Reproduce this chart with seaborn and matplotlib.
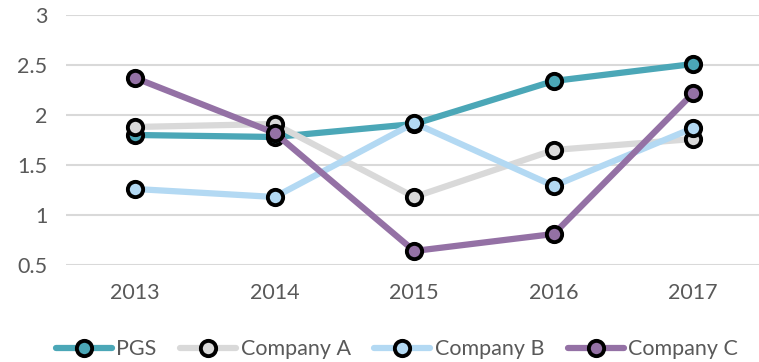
import matplotlib
matplotlib.use("Agg")
import matplotlib.pyplot as plt
import seaborn as sns
import pandas as pd

years = [2013, 2014, 2015, 2016, 2017]
series_names = ["PGS", "Company A", "Company B", "Company C"]
pgs = [1.80, 1.78, 1.91, 2.34, 2.51]
company_a = [1.88, 1.91, 1.18, 1.65, 1.76]
company_b = [1.26, 1.18, 1.92, 1.29, 1.87]
company_c = [2.37, 1.82, 0.64, 0.81, 2.22]
colors = ["#4BA7B7", "#D9D9D9", "#B3D9F3", "#9471A5"]
y_ticks = [0.5, 1, 1.5, 2, 2.5, 3]

df = pd.DataFrame({
    "year": years * 4,
    "value": pgs + company_a + company_b + company_c,
    "series": sum([[n] * len(years) for n in series_names], []),
})

sns.set_style("white")
plt.rcParams["font.family"] = ["Lato", "DejaVu Sans"]

fig = plt.figure(figsize=(7.59, 3.62), dpi=100)
ax = fig.add_axes([0.0863, 0.268, 0.919, 0.6906])

sns.lineplot(
    data=df, x="year", y="value", hue="series", hue_order=series_names,
    palette=colors, linewidth=4.5, marker="o", markersize=11,
    markeredgecolor="black", markeredgewidth=2.8, ax=ax, legend=True,
    sort=False,
)

ax.set_xlim(2012.5, 2017.5)
ax.set_ylim(0.5, 3)
ax.set_xticks(years)
ax.set_xticklabels([str(y) for y in years])
ax.set_yticks(y_ticks)
ax.set_yticklabels(["0.5", "1", "1.5", "2", "2.5", "3"])
ax.yaxis.grid(True, color="#D9D9D9", linewidth=1.5)
ax.set_axisbelow(True)
for s in ax.spines.values():
    s.set_visible(False)
ax.tick_params(axis="both", length=0, labelsize=15.5, colors="#595959")
ax.tick_params(axis="x", pad=13)
ax.tick_params(axis="y", pad=13)
ax.set_xlabel("")
ax.set_ylabel("")

handles, labels = ax.get_legend_handles_labels()
ax.get_legend().remove()
fig.legend(
    handles, labels, loc="center", bbox_to_anchor=(0.523, 0.035),
    ncol=4, frameon=False, fontsize=15.5, handlelength=2.6,
    columnspacing=1.1, handletextpad=0.2, labelcolor="#595959",
    borderaxespad=0, borderpad=0,
)

fig.savefig("out.png", dpi=100)
